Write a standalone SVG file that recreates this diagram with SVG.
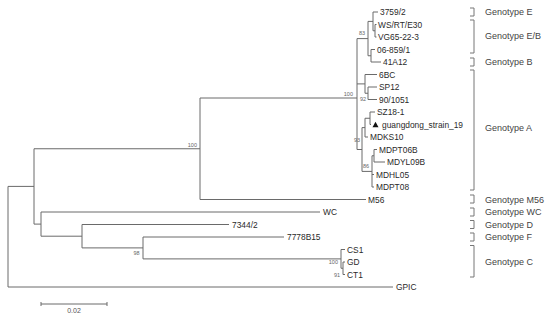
<svg xmlns="http://www.w3.org/2000/svg" width="550" height="321" viewBox="0 0 550 321">
<style>
.br{fill:none;stroke:#6a6a6a;stroke-width:1}
.tip{font-family:"Liberation Sans",Arial,sans-serif;font-size:8.4px;fill:#2a2a2a}
.bs{font-family:"Liberation Sans",Arial,sans-serif;font-size:5.5px;fill:#666;text-anchor:end}
.gt{font-family:"Liberation Sans",Arial,sans-serif;font-size:9px;fill:#444}
.bk{fill:none;stroke:#777;stroke-width:1}
.sc{font-family:"Liberation Sans",Arial,sans-serif;font-size:7px;fill:#555;text-anchor:middle}
</style>
<rect width="550" height="321" fill="#fff"/>
<g id="connectors" class="br">
<path d="M8 186.4V287M8 186.4H34M8 287H393"/>
<path d="M34 148.75V224.1M34 148.75H200M34 224.1H41"/>
<path d="M200 98V199.5M200 98H357M200 199.5H366"/>
<path d="M357 38.6V149.5M357 38.6H368M357 83.9H365M357 149.5H362"/>
<path d="M368 21.4V55.75M368 21.4H373M368 55.75H371"/>
<path d="M373 12V30.75M373 12H378M373 30.75H375"/>
<path d="M375 24.5V37M375 24.5H376.5M375 37H376.5"/>
<path d="M371 49.5V62M371 49.5H375M371 62H381"/>
<path d="M365 74.5V93.25M365 74.5H377M365 93.25H368"/>
<path d="M368 87V99.5M368 87H377M368 99.5H377"/>
<path d="M362 127.6V171.4M362 127.6H365M362 171.4H372"/>
<path d="M365 118.25V137M365 118.25H370M365 137H368"/>
<path d="M370 112V124.5M370 112H375M370 124.5H371"/>
<path d="M372 155.75V187M372 155.75H374M372 174.5H374M372 187H374"/>
<path d="M374 149.5V162M374 149.5H377M374 162H385"/>
<path d="M41 212V236.2M41 212H320M41 236.2H82"/>
<path d="M82 224.5V247.9M82 224.5H229M82 247.9H143"/>
<path d="M143 237V258.9M143 237H284M143 258.9H341"/>
<path d="M341 249.5V268.25M341 249.5H345M341 268.25H343"/>
<path d="M343 262V274.5M343 262H345M343 274.5H345"/>
</g>
<g id="bootstrap">
<text class="bs" x="365" y="35">83</text>
<text class="bs" x="353" y="96">100</text>
<text class="bs" x="366" y="101">92</text>
<text class="bs" x="360" y="142">93</text>
<text class="bs" x="369" y="168">86</text>
<text class="bs" x="197" y="146.5">100</text>
<text class="bs" x="139.5" y="255">98</text>
<text class="bs" x="338" y="264">100</text>
<text class="bs" x="340" y="276.5">91</text>
</g>
<g id="tip-3759-2"><text class="tip" x="380" y="15">3759/2</text></g>
<g id="tip-WS-RT-E30"><text class="tip" x="378" y="27.5">WS/RT/E30</text></g>
<g id="tip-VG65-22-3"><text class="tip" x="378" y="40">VG65-22-3</text></g>
<g id="tip-06-859-1"><text class="tip" x="377" y="52.5">06-859/1</text></g>
<g id="tip-41A12"><text class="tip" x="383" y="65">41A12</text></g>
<g id="tip-6BC"><text class="tip" x="379" y="77.5">6BC</text></g>
<g id="tip-SP12"><text class="tip" x="379" y="90">SP12</text></g>
<g id="tip-90-1051"><text class="tip" x="379" y="102.5">90/1051</text></g>
<g id="tip-SZ18-1"><text class="tip" x="377" y="115">SZ18-1</text></g>
<g id="tip-guangdong"><polygon points="372.5,127.3 378.5,127.3 375.5,121.8" fill="#111"/><text class="tip" x="382" y="127.5">guangdong_strain_19</text></g>
<g id="tip-MDKS10"><text class="tip" x="370" y="140">MDKS10</text></g>
<g id="tip-MDPT06B"><text class="tip" x="379" y="152.5">MDPT06B</text></g>
<g id="tip-MDYL09B"><text class="tip" x="387" y="165">MDYL09B</text></g>
<g id="tip-MDHL05"><text class="tip" x="376" y="177.5">MDHL05</text></g>
<g id="tip-MDPT08"><text class="tip" x="376" y="190">MDPT08</text></g>
<g id="tip-M56"><text class="tip" x="368" y="202.5">M56</text></g>
<g id="tip-WC"><text class="tip" x="323" y="215">WC</text></g>
<g id="tip-7344-2"><text class="tip" x="232" y="227.5">7344/2</text></g>
<g id="tip-7778B15"><text class="tip" x="287" y="240">7778B15</text></g>
<g id="tip-CS1"><text class="tip" x="347" y="252.5">CS1</text></g>
<g id="tip-GD"><text class="tip" x="347" y="265">GD</text></g>
<g id="tip-CT1"><text class="tip" x="347" y="277.5">CT1</text></g>
<g id="tip-GPIC"><text class="tip" x="396" y="290">GPIC</text></g>
<g id="genotype-E"><path class="bk" d="M470 8H474V16H470"/><text class="gt" x="485" y="15.2">Genotype E</text></g>
<g id="genotype-EB"><path class="bk" d="M470 20H474V53H470"/><text class="gt" x="485" y="38.5">Genotype E/B</text></g>
<g id="genotype-B"><path class="bk" d="M470 58H474V66H470"/><text class="gt" x="485" y="65.2">Genotype B</text></g>
<g id="genotype-A"><path class="bk" d="M470 70H474V190H470"/><text class="gt" x="485" y="131">Genotype A</text></g>
<g id="genotype-M56"><path class="bk" d="M470 195H474V203H470"/><text class="gt" x="485" y="202.7">Genotype M56</text></g>
<g id="genotype-WC"><path class="bk" d="M470 208H474V216H470"/><text class="gt" x="485" y="215.2">Genotype WC</text></g>
<g id="genotype-D"><path class="bk" d="M470 220.5H474V228.5H470"/><text class="gt" x="485" y="227.7">Genotype D</text></g>
<g id="genotype-F"><path class="bk" d="M470 233H474V241H470"/><text class="gt" x="485" y="240.2">Genotype F</text></g>
<g id="genotype-C"><path class="bk" d="M470 245.5H474V277H470"/><text class="gt" x="485" y="265.2">Genotype C</text></g>
<g id="scale-bar"><path class="br" d="M41 304H107M41 302V306M107 302V306"/><text class="sc" x="74" y="312.5">0.02</text></g>
</svg>
